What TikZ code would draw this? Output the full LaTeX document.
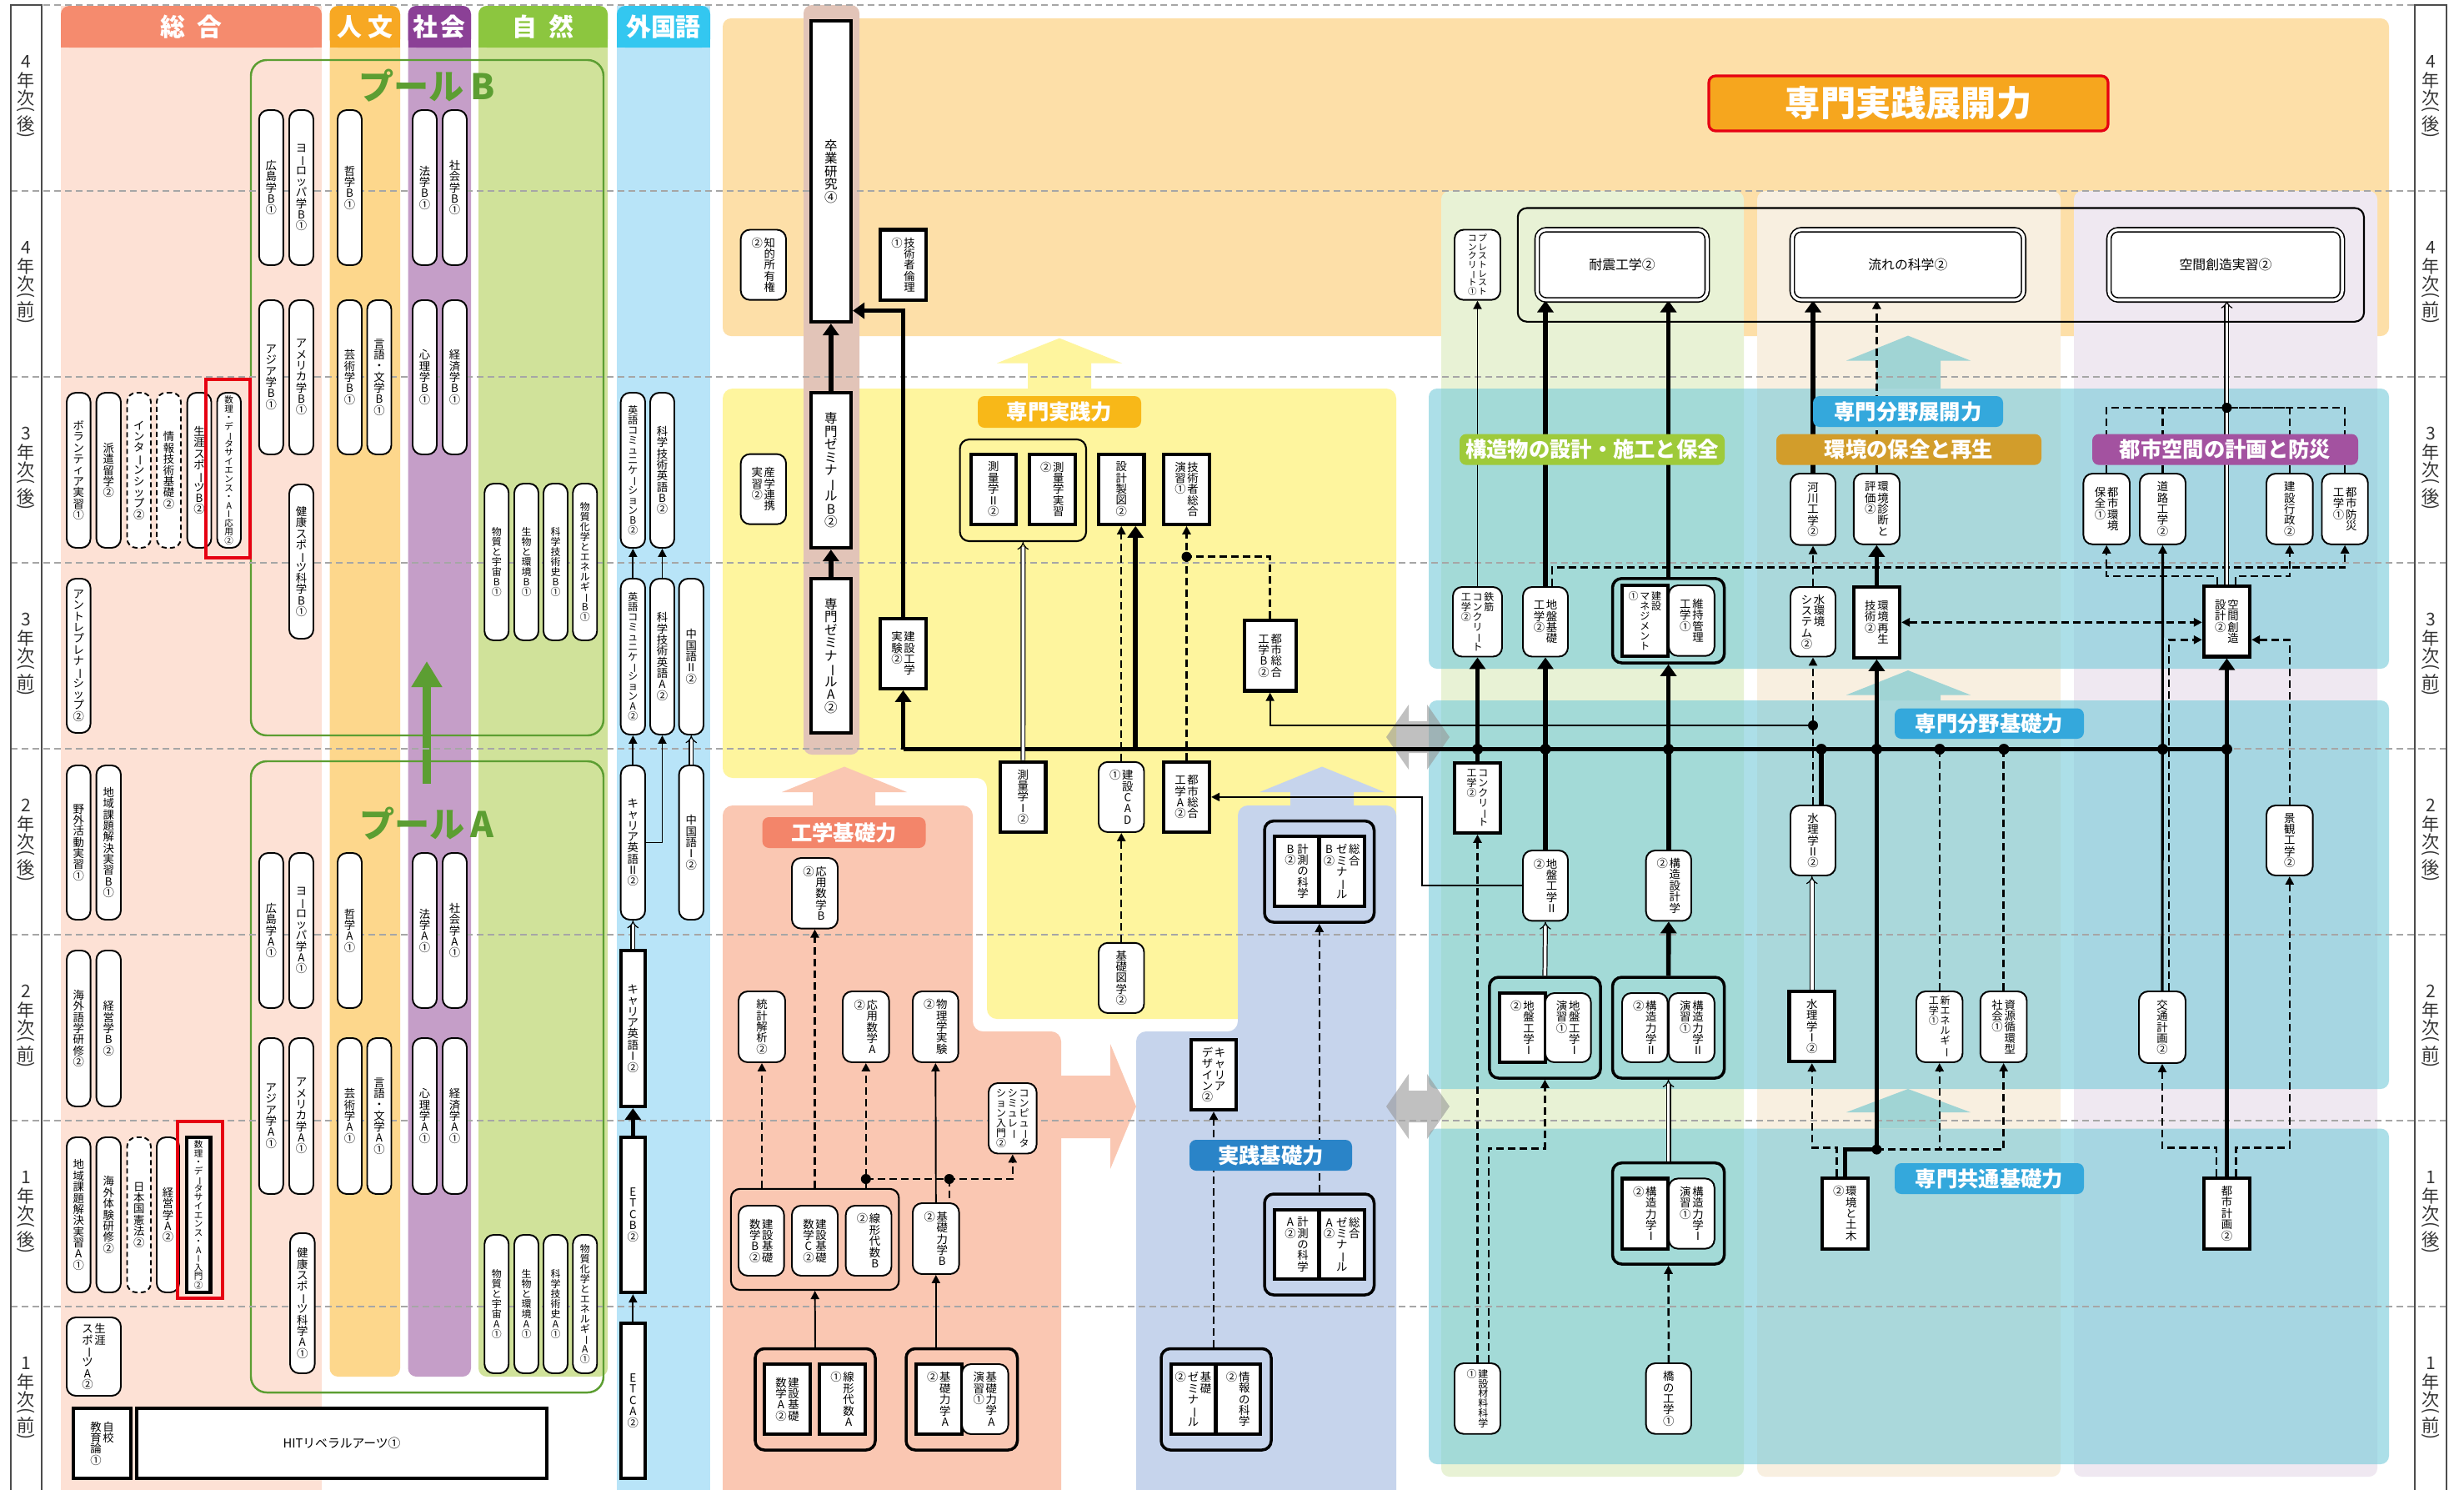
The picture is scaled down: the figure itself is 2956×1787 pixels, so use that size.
\documentclass[tikz,border=0pt]{standalone}
\usepackage{fontspec}
\setmainfont{Noto Sans CJK JP}
\usepackage{graphicx}
\usetikzlibrary{arrows.meta,calc}

\definecolor{sogoHd}{RGB}{245,139,110}\definecolor{sogoBg}{RGB}{253,225,213}
\definecolor{jinHd}{RGB}{247,168,35}\definecolor{jinBg}{RGB}{253,215,140}
\definecolor{shaHd}{RGB}{139,64,150}\definecolor{shaBg}{RGB}{197,158,200}
\definecolor{shiHd}{RGB}{140,198,63}\definecolor{shiBg}{RGB}{208,226,154}
\definecolor{gaiHd}{RGB}{51,199,240}\definecolor{gaiBg}{RGB}{184,228,248}
\definecolor{poolGr}{RGB}{92,158,50}
\definecolor{tenkaiBg}{RGB}{253,223,168}
\definecolor{sotsuBg}{RGB}{226,196,184}
\definecolor{jissenBg}{RGB}{254,245,158}
\definecolor{kisoBg}{RGB}{250,199,178}
\definecolor{jkisoBg}{RGB}{198,212,236}
\definecolor{kozoCol}{RGB}{232,242,213}
\definecolor{kanCol}{RGB}{248,239,224}
\definecolor{toshiCol}{RGB}{239,232,241}
\definecolor{bandC}{RGB}{118,202,217}
\definecolor{tealA}{RGB}{160,212,212}
\definecolor{grayA}{RGB}{150,150,150}
\definecolor{lblJissen}{RGB}{248,184,24}
\definecolor{lblKiso}{RGB}{243,133,106}
\definecolor{lblJk}{RGB}{42,132,200}
\definecolor{lblKozo}{RGB}{158,202,58}
\definecolor{lblBunya}{RGB}{52,168,220}
\definecolor{lblKan}{RGB}{210,157,43}
\definecolor{lblToshi}{RGB}{163,82,160}
\definecolor{lblTenkai}{RGB}{246,166,30}
\definecolor{frameRed}{RGB}{230,0,18}

\pgfdeclarelayer{back}
\pgfdeclarelayer{lines}
\pgfsetlayers{back,lines,main}

% vertical (tategaki) text
\makeatletter
\def\tv@bar{ー}
\newcommand\tv[1]{\edef\tv@arg{#1}\expandafter\tv@do\expandafter{\tv@arg}}
\def\tv@do#1{\vtop{\baselineskip=1em\lineskiplimit=-100pt\lineskip=0pt
  \@tfor\tv@c:=#1\do{\tv@char}}}
\def\tv@char{\hbox to 1em{\hss\ifx\tv@c\tv@bar\rotatebox[origin=c]{-90}{ー}\else\tv@c\fi\hss}}
\makeatother
\newcommand\tvb[2]{\hbox{\tv{#2}\kern.5pt\tv{#1}}}
\newcommand\tvc[3]{\hbox{\tv{#3}\kern.5pt\tv{#2}\kern.5pt\tv{#1}}}
\newcommand\yrc[1]{\hbox to 1em{\hss#1\hss}}
\newcommand\yrlab[2]{\vbox{\offinterlineskip\yrc{#1}\kern1.5pt\yrc{年}\kern.5pt\yrc{次}%
  \yrc{\rotatebox[origin=c]{-90}{(}}\kern.5pt\yrc{#2}\yrc{\rotatebox[origin=c]{-90}{)}}}}
% course box from its corners
\newcommand\course[7][crs]{\node[#1,minimum width={((#5)-(#3))*0.01cm},
  minimum height={((#6)-(#4))*0.01cm}] (#2) at ({((#3)+(#5))/2},{((#4)+(#6))/2}) {#7};}

\tikzset{
  crs/.style={draw, fill=white, rounded corners=0.11cm, line width=0.55pt, inner sep=0pt,
    font=\fontsize{3.8}{3.8}\selectfont},
  req/.style={draw, fill=white, line width=1.2pt, inner sep=0pt, font=\fontsize{3.8}{3.8}\selectfont},
  opt/.style={crs, dash pattern=on 0.06cm off 0.04cm},
  sml/.style={font=\fontsize{3.4}{3.4}\selectfont},
  xsml/.style={font=\fontsize{3.0}{3.0}\selectfont},
  big/.style={font=\fontsize{4.4}{4.4}\selectfont},
  dblbox/.style={draw, fill=white, double, double distance=0.035cm, line width=0.45pt,
    rounded corners=0.11cm, inner sep=0pt, font=\fontsize{4.5}{4.5}\selectfont},
  grp/.style={draw, rounded corners=0.11cm, line width=0.6pt, inner sep=0pt},
  grpthick/.style={grp, line width=1pt},
  hdr/.style={text=white, font=\fontsize{8.5}{8.5}\selectfont\bfseries, inner sep=0pt},
  lbl/.style={rounded corners=0.08cm, text=white, font=\fontsize{7.2}{7.2}\selectfont\bfseries, inner sep=0pt},
  yrtxt/.style={font=\fontsize{6}{6}\selectfont, text=black!80, inner sep=0pt},
  pooltxt/.style={font=\fontsize{12}{12}\selectfont\bfseries, text=poolGr, inner sep=0pt},
  rowline/.style={gray!70, line width=0.4pt, dash pattern=on 0.08cm off 0.05cm},
  thn/.style={line width=0.55pt, -{Triangle[length=0.1cm,width=0.1cm]}},
  thk/.style={line width=1.6pt, -{Triangle[length=0.14cm,width=0.19cm]}},
  thkl/.style={line width=1.6pt},
  dshl/.style={line width=0.7pt, dash pattern=on 0.09cm off 0.05cm},
  dsh/.style={dshl, -{Triangle[length=0.1cm,width=0.1cm]}},
  dbl/.style={double, double distance=0.035cm, line width=0.35pt, -{Implies}},
}

\begin{document}
\begin{tikzpicture}[x=0.01cm, y=-0.01cm]
\useasboundingbox (0,0) rectangle (2956,1787);

\begin{pgfonlayer}{back}
\fill[white] (0,0) rectangle (2956,1787);
% general education columns
\fill[sogoBg] (73,7) rectangle (386,1800);
\fill[jinBg, rounded corners=0.1cm] (395.5,7) rectangle (480,1651);
\fill[shaBg, rounded corners=0.1cm] (489.5,7) rectangle (565,1651);
\fill[shiBg, rounded corners=0.1cm] (574,7) rectangle (729,1651);
\fill[gaiBg] (740,7) rectangle (852,1800);
\foreach \xa/\xb/\col in {73/386/sogoHd,395.5/480/jinHd,489.5/565/shaHd,574/729/shiHd,740/852/gaiHd}{
  \fill[\col, rounded corners=0.1cm] (\xa,7) rectangle (\xb,57);
  \fill[\col] (\xa,30) rectangle (\xb,57);
}
% pools
\draw[poolGr, line width=0.7pt, rounded corners=0.19cm] (301,72) rectangle (724,882);
\draw[poolGr, line width=0.7pt, rounded corners=0.19cm] (301,913) rectangle (724,1670);
\draw[poolGr, line width=2.7pt, -{Triangle[length=0.31cm,width=0.35cm]}] (512,940) -- (512,793);

% specialised regions
\fill[tenkaiBg, rounded corners=0.1cm] (867,22) rectangle (2866,403);
\fill[jissenBg, rounded corners=0.12cm] (867,466) -- (1675,466) -- (1675,1222) -- (1184,1222)
  -- (1184,933) -- (867,933) -- cycle;
\fill[kisoBg, rounded corners=0.12cm] (867,966) -- (1167,966) -- (1167,1237) -- (1273,1237)
  -- (1273,1800) -- (867,1800) -- cycle;
\fill[jkisoBg, rounded corners=0.12cm] (1485,966) -- (1675,966) -- (1675,1800) -- (1363,1800)
  -- (1363,1237) -- (1485,1237) -- cycle;
\fill[sotsuBg, rounded corners=0.1cm] (964,6) rectangle (1031,905);
\fill[kisoBg] (1273,1290) -- (1332,1290) -- (1332,1252) -- (1363,1327) -- (1332,1402)
  -- (1332,1365) -- (1273,1365) -- cycle;
\fill[jissenBg] (1233,466) -- (1233,435.5) -- (1196,435.5) -- (1271,405.6) -- (1346,435.5)
  -- (1309,435.5) -- (1309,466) -- cycle;
\fill[kisoBg] (975,966) -- (975,950) -- (938,950) -- (1013,919.5) -- (1088,950) -- (1050,950)
  -- (1050,966) -- cycle;
\fill[jkisoBg] (1548,966) -- (1548,950) -- (1511,950) -- (1586,919.5) -- (1661,950)
  -- (1624,950) -- (1624,966) -- cycle;

\fill[kozoCol, rounded corners=0.1cm] (1729,229) rectangle (2092,1771);
\fill[kanCol, rounded corners=0.1cm] (2108,229) rectangle (2472,1771);
\fill[toshiCol, rounded corners=0.1cm] (2488,229) rectangle (2852,1771);
\foreach \ya/\yb in {466/802,840/1306,1353.5/1756}
  \fill[bandC, opacity=0.6, rounded corners=0.1cm] (1714,\ya) rectangle (2866,\yb);
\foreach \tip/\base/\bot in {402.6/432.5/466,804/833.5/840,1306/1334/1353.5}
  \fill[tealA] (2251,\bot) -- (2251,\base) -- (2215,\base) -- (2289,\tip) -- (2364,\base)
    -- (2328,\base) -- (2328,\bot) -- cycle;
\foreach \yc in {884,1327}
  \fill[grayA, opacity=0.6] (1663,\yc) -- (1690,\yc-39) -- (1690,\yc-19) -- (1712,\yc-19)
    -- (1712,\yc-39) -- (1739,\yc) -- (1712,\yc+39) -- (1712,\yc+19) -- (1690,\yc+19)
    -- (1690,\yc+39) -- cycle;

% semester rows
\foreach \y in {6,229,...,1567}
  \draw[rowline] (13,\y) -- (2935,\y);
\draw[black!70, line width=0.5pt] (13,1800) -- (13,6) -- (50,6) -- (50,1800);
\draw[black!70, line width=0.5pt] (2897,1800) -- (2897,6) -- (2935,6) -- (2935,1800);
\end{pgfonlayer}

% headers and labels
\node[hdr] (hSogo) at (229.5,32) {総\kern4pt 合};
\node[hdr] (hJin) at (437.75,32) {人\kern2pt 文};
\node[hdr] (hSha) at (527.25,32) {社\kern1pt 会};
\node[hdr] (hShi) at (651.5,32) {自\kern4pt 然};
\node[hdr] (hGai) at (796,32) {外国語};
\node[pooltxt] (poolB) at (512,103) {プール\kern2pt B};
\node[pooltxt] (poolA) at (512,988) {プール\kern2pt A};
\foreach \a/\b [count=\r from 0] in {4/後,4/前,3/後,3/前,2/後,2/前,1/後,1/前}{
  \node[yrtxt] (yl\r) at (31.5,{117.5+223*\r}) {\yrlab{\a}{\b}};
  \node[yrtxt] (yr\r) at (2916,{117.5+223*\r}) {\yrlab{\a}{\b}};
}
\course[lbl, fill=lblTenkai, draw=frameRed, line width=0.9pt, font=\fontsize{12}{12}\selectfont\bfseries]{lTenkai}{2050}{91}{2529}{157}{専門実践展開力}
\course[lbl, fill=lblJissen]{lJissen}{1173}{475}{1369}{513}{専門実践力}
\course[lbl, fill=lblKiso]{lKiso}{914.6}{980}{1110.5}{1017}{工学基礎力}
\course[lbl, fill=lblJk]{lJk}{1427}{1367}{1622}{1404}{実践基礎力}
\course[lbl, fill=lblKozo]{lKozo}{1751}{520.5}{2069}{557.6}{構造物の設計・施工と保全}
\course[lbl, fill=lblBunya]{lTen}{2175}{475}{2403}{512}{専門分野展開力}
\course[lbl, fill=lblKan]{lKan}{2131}{520.5}{2449}{557.6}{環境の保全と再生}
\course[lbl, fill=lblToshi]{lToshi}{2510}{520.5}{2829}{557.6}{都市空間の計画と防災}
\course[lbl, fill=lblBunya]{lBun}{2273}{849.5}{2500}{886}{専門分野基礎力}
\course[lbl, fill=lblBunya]{lKyo}{2273}{1395}{2500}{1432}{専門共通基礎力}

% general courses
\course{volunteer}{80}{471}{108.6}{657}{\tv{ボランティア実習①}}
\course{haken}{115.6}{471}{145}{657}{\tv{派遣留学②}}
\course[opt]{intern}{152.5}{471}{181}{657}{\tv{インターンシップ②}}
\course[opt]{johokiso}{188}{471}{217}{657}{\tv{情報技術基礎②}}
\course{shogaiB}{224.7}{471}{253.5}{657}{\tv{生涯スポーツB②}}
\course[crs,xsml]{dsOuyou}{260.5}{471}{289}{657}{\tv{数理・データサイエンス・AI応用②}}
\course{entre}{80}{694}{108.6}{879}{\tv{アントレプレナーシップ②}}
\course{yagai}{80}{918}{108.6}{1103}{\tv{野外活動実習①}}
\course{chiikiB}{115.6}{918}{145}{1103}{\tv{地域課題解決実習B①}}
\course{kaigaiGo}{80}{1140}{108.6}{1327}{\tv{海外語学研修②}}
\course{keieiB}{115.6}{1140}{145}{1327}{\tv{経営学B②}}
\course{chiikiA}{80}{1364}{108.6}{1550}{\tv{地域課題解決実習A①}}
\course{kaigaiTai}{115.6}{1364}{145}{1550}{\tv{海外体験研修②}}
\course[opt]{kenpo}{152.5}{1364}{181}{1550}{\tv{日本国憲法②}}
\course{keieiA}{188}{1364}{215}{1550}{\tv{経営学A②}}
\course[req,xsml]{dsNyumon}{224}{1364}{252.5}{1550}{\tv{数理・データサイエンス・AI入門②}}
\course{shogaiA}{80}{1580}{145}{1674}{\tvb{生涯}{スポーツA②}}
\course[req]{jiko}{88}{1689}{157}{1773}{\tvb{自校}{教育論①}}
\course[req, font=\fontsize{4.2}{4.2}\selectfont]{hit}{164}{1689}{656}{1773}{HITリベラルアーツ①}
\draw[frameRed, line width=1.3pt] (247,455) rectangle (300,669);
\draw[frameRed, line width=1.3pt] (213,1345) rectangle (267,1557);

% pool B
\foreach \x/\nm [count=\i] in {325.3/広島学B①,361.5/ヨーロッパ学B①,419.5/哲学B①,509.5/法学B①,545.5/社会学B①}
  {\course{pbA\i}{\x-14.5}{132}{\x+14.5}{318}{\tv{\nm}}}
\foreach \x/\nm [count=\i] in {325.3/アジア学B①,361.5/アメリカ学B①,419.5/芸術学B①,455/言語・文学B①,509.5/心理学B①,545.5/経済学B①}
  {\course{pbB\i}{\x-14.5}{360}{\x+14.5}{545}{\tv{\nm}}}
\course{pbKen}{347}{581}{376}{766}{\tv{健康スポーツ科学B①}}
\foreach \x/\nm [count=\i] in {595.75/物質と宇宙B①,631.5/生物と環境B①,666.5/科学技術史B①,701.75/物質化学とエネルギーB①}
  {\course[crs,sml]{pbN\i}{\x-14.5}{580}{\x+14.5}{768}{\tv{\nm}}}
% pool A
\foreach \x/\nm [count=\i] in {325.3/広島学A①,361.5/ヨーロッパ学A①,419.5/哲学A①,509.5/法学A①,545.5/社会学A①}
  {\course{paA\i}{\x-14.5}{1023}{\x+14.5}{1209}{\tv{\nm}}}
\foreach \x/\nm [count=\i] in {325.3/アジア学A①,361.5/アメリカ学A①,419.5/芸術学A①,455/言語・文学A①,509.5/心理学A①,545.5/経済学A①}
  {\course{paB\i}{\x-14.5}{1245}{\x+14.5}{1432}{\tv{\nm}}}
\course{paKen}{348}{1479}{377.6}{1647}{\tv{健康スポーツ科学A①}}
\foreach \x/\nm [count=\i] in {595.75/物質と宇宙A①,631.5/生物と環境A①,666.5/科学技術史A①,701.75/物質化学とエネルギーA①}
  {\course[crs,sml]{paN\i}{\x-14.5}{1481}{\x+14.5}{1647}{\tv{\nm}}}

% foreign languages
\course[crs,sml]{eicomB}{744.7}{471}{774}{657}{\tv{英語コミュニケーションB②}}
\course{kagEiB}{780}{471}{809}{657}{\tv{科学技術英語B②}}
\course[crs,sml]{eicomA}{744.7}{694}{774}{881}{\tv{英語コミュニケーションA②}}
\course{kagEiA}{780}{694}{809}{881}{\tv{科学技術英語A②}}
\course{chuII}{814.6}{694}{844}{881}{\tv{中国語Ⅱ②}}
\course{carEiII}{744.7}{918}{774}{1103}{\tv{キャリア英語Ⅱ②}}
\course{chuI}{814.6}{918}{844}{1103}{\tv{中国語Ⅰ②}}
\course[req]{carEiI}{744.7}{1140}{774}{1327}{\tv{キャリア英語Ⅰ②}}
\course[req]{etcB}{744.7}{1364}{774}{1550}{\tv{ETCB②}}
\course[req]{etcA}{744.7}{1587}{774}{1773}{\tv{ETCA②}}

% practice
\course[req,big]{sotsu}{972.7}{25}{1021}{386}{\tv{卒業研究④}}
\course{chiteki}{888.7}{275.5}{943}{359.7}{\tvb{知的所有権}{②}}
\course[req]{rinri}{1056}{275.5}{1111}{359.7}{\tvb{技術者倫理}{①}}
\course{sangaku}{888.7}{544.6}{943}{628.7}{\tvb{産学連携}{実習②}}
\course[req,big]{zemiB}{972.7}{470.7}{1021}{657}{\tv{専門ゼミナールB②}}
\course[req,big]{zemiA}{972.7}{694}{1021}{879}{\tv{専門ゼミナールA②}}
\course[req]{jikken}{1056}{741.6}{1111}{825.8}{\tvb{建設工学}{実験②}}
\course[grp]{sokuG}{1151.6}{527}{1303}{649}{}
\course[req]{sokuII}{1164.8}{544.6}{1219}{628.7}{\tv{測量学Ⅱ②}}
\course[req]{sokuJ}{1234.7}{544.6}{1290}{628.7}{\tvb{測量学実習}{②}}
\course[req]{seizu}{1318}{544.6}{1372.5}{628.7}{\tv{設計製図②}}
\course[req]{gijutsu}{1396}{544.6}{1451}{628.7}{\tvb{技術者総合}{演習①}}
\course[req]{sokuI}{1200}{913.8}{1254.5}{998}{\tv{測量学Ⅰ②}}
\course{cad}{1318}{913.8}{1372.5}{998}{\tvb{建設CAD}{①}}
\course[req]{toshiA}{1396}{913.8}{1451}{998}{\tvb{都市総合}{工学A②}}
\course{zugaku}{1318}{1130.8}{1372.5}{1215}{\tv{基礎図学②}}
\course[req]{toshiB}{1492.7}{744}{1554.6}{828.5}{\tvb{都市総合}{工学B②}}

% engineering basics
\course{ouB}{950}{1029}{1005}{1113.6}{\tvb{応用数学B}{②}}
\course{toukei}{886}{1189}{942}{1274}{\tv{統計解析②}}
\course{ouA}{1011}{1189}{1066.6}{1274}{\tvb{応用数学A}{②}}
\course{butsuri}{1095}{1189}{1149.7}{1274}{\tvb{物理学実験}{②}}
\course[crs,sml]{compsim}{1186}{1299}{1243.6}{1383.5}{\tvc{コンピュータ}{シミュレー}{ション入門②}}
\course[grp]{kisoG1}{876.9}{1425.8}{1078.4}{1547}{}
\course{kiB}{886}{1446}{940.6}{1530}{\tvb{建設基礎}{数学B②}}
\course{kiC}{950}{1446}{1005}{1530}{\tvb{建設基礎}{数学C②}}
\course{senB}{1014.7}{1446}{1069.5}{1530}{\tvb{線形代数B}{②}}
\course{rikiB}{1095}{1443}{1150.6}{1528}{\tvb{基礎力学B}{②}}
\course[grpthick]{kisoG2}{906}{1617.5}{1050}{1739}{}
\course[req]{kiA}{917}{1636}{972}{1720}{\tvb{建設基礎}{数学A②}}
\course[req]{senA}{983}{1636}{1038}{1720}{\tvb{線形代数A}{①}}
\course[grpthick]{rikiG}{1087}{1617.5}{1220.5}{1739}{}
\course[req]{rikiA}{1098.7}{1636}{1154}{1720}{\tvb{基礎力学A}{②}}
\course{rikiEn}{1154}{1636}{1209.6}{1720}{\tvb{基礎力学A}{演習①}}

% practice basics
\course[req]{career}{1429}{1247}{1483}{1331}{\tvb{キャリア}{デザイン②}}
\course[grpthick]{sogoGB}{1517}{984.6}{1648.5}{1106}{}
\course[req]{keisokuB}{1528.6}{1003}{1582.4}{1086.8}{\tvb{計測の科学}{B②}}
\course[req]{sogozemiB}{1582.4}{1003}{1637}{1086.8}{\tvc{総合}{ゼミナール}{B②}}
\course[grpthick]{sogoGA}{1517}{1432}{1648.5}{1553}{}
\course[req]{keisokuA}{1528.6}{1451}{1582.4}{1534}{\tvb{計測の科学}{A②}}
\course[req]{sogozemiA}{1582.4}{1451}{1637}{1534}{\tvc{総合}{ゼミナール}{A②}}
\course[grpthick]{kisozemiG}{1393}{1617.5}{1525}{1739}{}
\course[req]{kisozemi}{1404.6}{1636}{1458.4}{1720}{\tvc{基礎}{ゼミナール}{②}}
\course[req]{joho}{1458.4}{1636}{1512}{1720}{\tvb{情報の科学}{②}}

% structures
\course[crs,xsml]{prest}{1745}{275.5}{1800}{359.7}{\tvb{プレストレスト}{コンクリート①}}
\course[grp]{bigG}{1820.8}{249.5}{2836}{385.8}{}
\course[dblbox]{taishin}{1844}{275.5}{2048}{359.7}{耐震工学②}
\course[dblbox]{nagare}{2150}{275.5}{2427.7}{359.7}{流れの科学②}
\course[dblbox]{kukanJ}{2530}{275.5}{2810}{359.7}{空間創造実習②}
\course[crs,sml]{tekkin}{1743}{704}{1802}{787.5}{\tvc{鉄筋}{コンクリート}{工学②}}
\course{jibanK}{1827}{704}{1881}{787.5}{\tvb{地盤基礎}{工学②}}
\course[grpthick]{mgmtG}{1934.5}{693.8}{2068.6}{795}{}
\course[req,sml]{mgmt}{1946}{702}{2000.6}{786.7}{\tvc{建設}{マネジメント}{①}}
\course{iji}{2002}{702}{2056.8}{786.7}{\tvb{維持管理}{工学①}}
\course[req,sml]{concrete}{1745}{915}{1800}{998.8}{\tvb{コンクリート}{工学②}}
\course{jibanII}{1827}{1020}{1881}{1104.4}{\tvb{地盤工学Ⅱ}{②}}
\course{kozoSekkei}{1974.7}{1020}{2029}{1104.4}{\tvb{構造設計学}{②}}
\course[grpthick]{jibanIG}{1786.8}{1172}{1920}{1293}{}
\course[req]{jibanI}{1799}{1191}{1853.8}{1274}{\tvb{地盤工学Ⅰ}{②}}
\course{jibanIEn}{1853.8}{1191}{1908.6}{1274}{\tvb{地盤工学Ⅰ}{演習①}}
\course[grpthick]{rikiIIG}{1934.5}{1172}{2068.6}{1293}{}
\course{kozoII}{1946}{1191}{2000.6}{1274}{\tvb{構造力学Ⅱ}{②}}
\course{kozoIIEn}{2002}{1191}{2056.8}{1274}{\tvb{構造力学Ⅱ}{演習①}}
\course[grpthick]{rikiIG}{1934.5}{1394.7}{2068.6}{1516}{}
\course[req]{kozoI}{1946}{1413.4}{2000.6}{1497.6}{\tvb{構造力学Ⅰ}{②}}
\course{kozoIEn}{2002}{1413.4}{2056.8}{1497.6}{\tvb{構造力学Ⅰ}{演習①}}
\course[crs,sml]{zairyo}{1745}{1635}{1800}{1719.7}{\tvb{建設材料科学}{①}}
\course{hashi}{1974.7}{1635}{2029}{1719.7}{\tv{橋の工学①}}

% environment
\course{kasen}{2148}{568}{2202}{653.6}{\tv{河川工学②}}
\course{shindan}{2223.8}{568}{2279}{652.8}{\tvb{環境診断と}{評価②}}
\course{mizuSys}{2148}{704}{2202}{787.5}{\tvb{水環境}{システム②}}
\course[req]{saisei}{2223.8}{704}{2279}{788.7}{\tvb{環境再生}{技術②}}
\course{suiriII}{2148}{966}{2202}{1050}{\tv{水理学Ⅱ②}}
\course[req]{suiriI}{2146.5}{1189}{2201}{1273}{\tv{水理学Ⅰ②}}
\course[req]{doboku}{2185.6}{1413}{2241}{1497.6}{\tvb{環境と土木}{②}}
\course[crs,sml]{shinEne}{2299}{1189}{2354.5}{1274}{\tvb{新エネルギー}{工学①}}
\course{shigen}{2375.8}{1189}{2431.5}{1274}{\tvb{資源循環型}{社会①}}

% urban
\course{tKankyo}{2499.4}{568}{2555}{652.8}{\tvb{都市環境}{保全①}}
\course{doro}{2567}{568}{2622}{652.8}{\tv{道路工学②}}
\course{gyosei}{2719}{568}{2774.6}{652.8}{\tv{建設行政②}}
\course{bousai}{2785.5}{568}{2840.7}{652.8}{\tvb{都市防災}{工学①}}
\course[req]{kukanS}{2643.9}{703}{2699}{787.5}{\tvb{空間創造}{設計②}}
\course{keikan}{2719}{966}{2774.6}{1050}{\tv{景観工学②}}
\course{kotsu}{2566}{1189}{2622}{1275}{\tv{交通計画②}}
\course[req]{toshiKei}{2643.9}{1413}{2699}{1497.6}{\tv{都市計画②}}

\begin{pgfonlayer}{lines}
% foreign languages
\draw[thn] (eicomA.north) -- (eicomB.south);
\draw[thn] (kagEiA.north) -- (kagEiB.south);
\draw[thn] (carEiII.north) -- (eicomA.south);
\draw[thn] (carEiII.east) -| (kagEiA.south);
\draw[dbl] (chuI.north) -- (chuII.south);
\draw[dbl] (carEiI.north) -- (carEiII.south);
\draw[thk] (etcB.north) -- (carEiI.south);
\draw[thn] (etcA.north) -- (etcB.south);

% trunk
\coordinate (trL) at (1083.5,898.5);
\coordinate (trR) at (2671.45,898.5);
\draw[thkl] (trL) -- (trR);
\draw[thk] (zemiA.north) -- (zemiB.south);
\draw[thk] (zemiB.north) -- (sotsu.south);
\draw[thk] (jikken.north) |- ([yshift=0.155cm]sotsu.south east);
\draw[thk] (trL) -- (jikken.south);
\draw[thk] ([xshift=0.17cm]seizu.south |- trL) -- ([xshift=0.17cm]seizu.south);
\draw[dsh] (cad.north) -- (seizu.south);
\draw[dsh] (zugaku.north) -- (cad.south);
\draw[dbl] (sokuI.north) -- (sokuG.south);
\draw[dsh] (toshiA.north) -- (gijutsu.south);
\coordinate (dGij) at (1423.5,667.7);
\draw[dshl] (toshiB.north) |- (dGij);
\draw[thn] (jibanII.west) -- ++(-1.204cm,0) |- (toshiA.east);
\coordinate (dMizu) at (2175,870);
\draw[thn] (dMizu) -| (toshiB.south);

% engineering basics
\draw[thn] (kisoG2.north) -- (kisoG1.south);
\draw[thn] (rikiB.south |- rikiG.north) -- (rikiB.south);
\draw[thn] (rikiB.north) -- (butsuri.south);
\draw[dsh] (toukei.south |- kisoG1.north) -- (toukei.south);
\draw[dsh] (ouB.south |- kisoG1.north) -- (ouB.south);
\draw[dsh] (ouA.south |- kisoG1.north) -- (ouA.south);
\coordinate (dOuA) at (1038.8,1414);
\coordinate (dRiki) at (1138.8,1414);
\draw[dsh] (dOuA) -| (compsim.south);
\draw[dshl] (dRiki) -- (dRiki |- rikiB.north);
\draw[dsh] (career.south |- kisozemiG.north) -- (career.south);
\draw[dsh] (sogoGA.north) -- (sogoGB.south);

% structures
\draw[thn] (tekkin.north) -- (prest.south);
\draw[thk] (tekkin.south |- trL) -- (tekkin.south);
\draw[thkl] (concrete.north) -- (concrete.north |- trL);
\draw[thk] (jibanK.south |- trL) -- (jibanK.south);
\draw[thkl] (jibanII.north) -- (jibanII.north |- trL);
\draw[thk] (jibanK.north) -- (jibanK.north |- taishin.south);
\draw[thk] (mgmtG.south |- trL) -- (mgmtG.south);
\draw[thkl] (kozoSekkei.north) -- (kozoSekkei.north |- trL);
\draw[thk] (mgmtG.north) -- (mgmtG.north |- taishin.south);
\draw[dsh] ([xshift=0.08cm]jibanK.north) -- ++(0,0.225cm) -| (bousai.south);
\draw[dbl] (jibanIG.north) -- (jibanII.south);
\draw[thk] (rikiIIG.north) -- (kozoSekkei.south);
\draw[dbl] (rikiIG.north) -- (rikiIIG.south);
\draw[dsh] (hashi.north) -- (rikiIG.south);
\draw[dsh] (zairyo.north) -- (concrete.south);
\draw[dsh] ([xshift=0.133cm]zairyo.north) -- ++(0,2.564cm) -| (jibanIG.south);

% environment
\draw[thk] (kasen.north) -- (kasen.north |- nagare.south);
\draw[dsh] (shindan.north) -- (shindan.north |- nagare.south);
\draw[dsh] (mizuSys.north) -- (kasen.south);
\draw[thk] (saisei.north) -- (shindan.south);
\draw[dshl, {Triangle[length=0.1cm,width=0.1cm]}-{Triangle[length=0.1cm,width=0.1cm]}] (saisei.east) -- (saisei.east -| kukanS.west);
\draw[dsh] (suiriII.north) -- (mizuSys.south);
\draw[thkl] ([xshift=0.1cm]suiriII.north) -- ([xshift=0.1cm]suiriII.north |- trL);
\coordinate (dKan) at (2251.4,1378.6);
\draw[thk] (dKan) -- (saisei.south);
\draw[thkl] (doboku.north) |- (dKan);
\draw[dsh] ([xshift=-0.1cm]doboku.north) -- ++(0,0.344cm) -| (suiriI.south);
\draw[dsh] (dKan) -| (shinEne.south);
\draw[dsh] (dKan) -| (shigen.south);
\draw[dshl] (shinEne.north) -- (shinEne.north |- trL);
\draw[dshl] (shigen.north) -- (shigen.north |- trL);
\draw[dbl] (suiriI.north) -- (suiriI.north |- suiriII.south);

% urban
\coordinate (dTos) at (2671.45,489);
\draw[dbl] (kukanS.north) -- (kukanS.north |- kukanJ.south);
\draw[dshl] (tKankyo.north) |- (dTos);
\draw[dshl] (doro.north) |- (dTos);
\draw[dshl] (gyosei.north) |- (dTos);
\draw[dshl] (bousai.north) |- (dTos);
\draw[dsh] ([xshift=-0.115cm]kukanS.north) -- ++(0,0.1cm) -| (tKankyo.south);
\draw[dsh] ([xshift=0.105cm]kukanS.north) -- ++(0,0.1cm) -| (gyosei.south);
\draw[thn, line width=0.9pt] (kotsu.north) -- (doro.south);
\draw[dsh] ([xshift=0.08cm]kotsu.north) |- ([yshift=-0.22cm]kukanS.west);
\draw[dsh] (keikan.north) |- ([yshift=-0.22cm]kukanS.east);
\draw[thk] (toshiKei.north |- trL) -- (kukanS.south);
\draw[thkl] (toshiKei.north) -- (toshiKei.north |- trL);
\draw[dsh] ([xshift=-0.125cm]toshiKei.north) -- ++(0,0.344cm) -| (kotsu.south);
\draw[dsh] ([xshift=0.11cm]toshiKei.north) -- ++(0,0.344cm) -| (keikan.south);

% junction dots
\foreach \x in {1772.5,1854,2001.6,2185,2251.4,2327,2404,2594.5,2671.45}
  \fill (\x,898.5) circle (0.065cm);
\foreach \d in {dGij,dMizu,dOuA,dRiki,dKan,dTos}
  \fill (\d) circle (0.06cm);
\end{pgfonlayer}

\end{tikzpicture}
\end{document}
